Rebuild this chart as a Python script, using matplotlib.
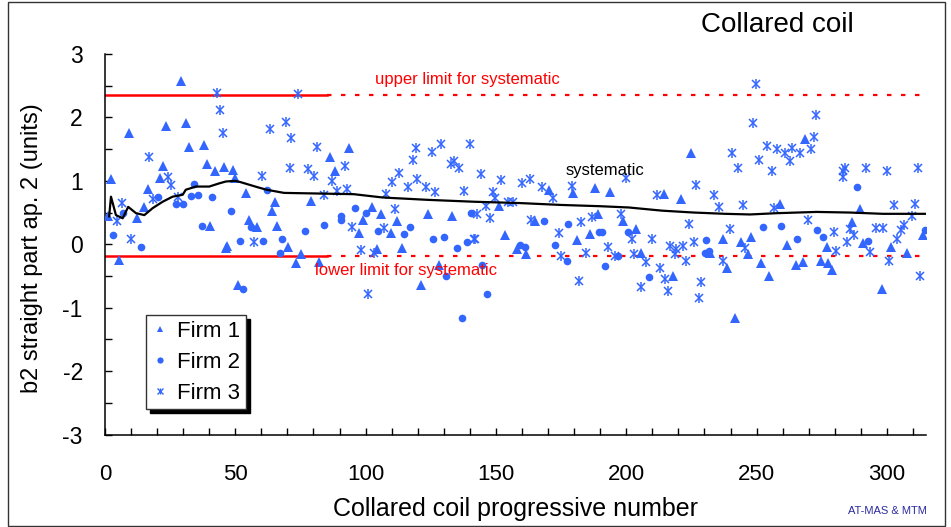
import matplotlib
matplotlib.use("Agg")
import matplotlib.pyplot as plt
from matplotlib.ticker import MultipleLocator
from matplotlib.patches import Rectangle

plt.rcParams['font.family'] = ['Liberation Sans', 'DejaVu Sans']
plt.rcParams['axes.unicode_minus'] = False

# Firm 1 (triangles)
firm1_x = [29.1, 9.3, 23.4, 31.0, 32.2, 38.0, 39.3, 42.3, 45.7, 22.1, 21.2, 2.3, 16.4, 15.1, 12.3, 1.0, 40.2, 5.2, 46.4,
           49.2, 50.0, 54.0, 65.3, 64.0, 55.3, 58.2, 65.9, 47.0, 70.4, 75.1, 73.2, 82.1, 79.2, 86.2, 88.2, 93.6, 51.1,
           102.3, 99.0, 106.0, 111.9, 97.4, 109.6, 124.0, 133.2, 114.1, 104.2, 121.3, 128.1,
           151.1, 153.6, 158.1, 161.7, 170.5, 179.4, 188.1, 181.1, 186.0, 165.1,
           224.8, 193.9, 214.3, 221.1, 189.1, 203.8, 198.7, 232.2, 237.3, 218.1, 205.7,
           268.6, 259.0, 243.9, 247.8, 261.6, 276.9, 238.6, 251.7, 254.9, 265.1, 267.9, 274.7, 277.5, 279.0, 241.8, 246.9,
           289.7, 286.7, 290.9, 301.5, 307.8, 313.9, 298.0]
firm1_y = [2.57, 1.76, 1.87, 1.91, 1.53, 1.56, 1.26, 1.15, 1.22, 1.24, 1.04, 1.03, 0.87, 0.59, 0.41, 0.45, 0.29, -0.25, -0.06,
           1.17, 1.05, 0.81, 0.67, 0.52, 0.38, 0.28, 0.29, -0.02, -0.05, -0.16, -0.29, -0.28, 0.68, 1.37, 1.16, 1.52, -0.64,
           0.58, 0.39, 0.48, 0.37, 0.17, 0.17, 0.47, 0.45, -0.06, -0.07, -0.64, -0.33,
           0.61, 0.15, -0.08, -0.15, 0.86, 0.81, 0.89, 0.06, 0.16, 0.36,
           1.44, 0.83, 0.79, 0.71, 0.48, 0.24, 0.37, -0.14, 0.09, -0.50, -0.14,
           1.66, 0.64, 0.03, 0.12, -0.01, -0.05, -0.38, -0.29, -0.50, -0.33, -0.28, -0.27, -0.29, -0.40, -1.16, -0.16,
           0.55, 0.35, 0.02, -0.04, -0.13, 0.15, -0.71]

# Firm 2 (circles)
firm2_x = [7.0, 2.9, 14.0, 27.2, 30.1, 33.0, 34.2, 35.8, 41.0, 37.2, 20.2,
           62.1, 48.3, 55.9, 51.8, 60.8, 67.8, 67.2, 76.6, 83.9, 90.4, 90.4, 53.1,
           95.9, 100.0, 104.7, 116.9, 114.7, 125.9, 130.0, 135.1, 139.0, 140.6, 130.7, 137.0,
           168.6, 159.4, 161.3, 177.7, 172.8, 189.4, 146.6, 144.7, 177.3,
           190.7, 200.6, 230.7, 230.1, 231.6, 196.8, 191.7, 208.9,
           252.4, 259.4, 265.6, 273.3, 275.6,
           288.6, 292.6, 314.6]
firm2_y = [0.49, 0.14, -0.05, 0.64, 0.64, 0.76, 0.95, 0.78, 0.74, 0.29, 0.75,
           0.85, 0.53, 0.27, 0.05, 0.05, 0.08, -0.13, 0.21, 0.31, 0.38, 0.45, -0.71,
           0.57, 0.50, 0.21, 0.28, 0.16, 0.08, 0.12, -0.06, 0.03, 0.49, -0.50, -1.17,
           0.36, -0.01, -0.04, 0.32, -0.01, 0.19, -0.79, -0.33, -0.27,
           0.19, 0.19, 0.07, -0.14, -0.10, -0.18, -0.34, -0.51,
           0.28, 0.29, 0.08, 0.23, 0.12,
           0.90, 0.05, 0.22]

# Firm 3 (asterisks)
firm3_x = [42.9, 44.2, 45.1, 17.0, 24.0, 25.3, 18.3, 28.2, 6.5, 4.5, 10.0,
           74.2, 69.3, 63.2, 71.2, 81.2, 92.0, 71.0, 77.9, 80.2, 60.2, 87.0, 88.9, 93.0, 84.0, 57.0,
           119.2, 118.3, 125.3, 129.0, 140.0, 133.8, 136.0, 132.7, 112.8, 110.2, 119.8, 116.2, 123.0, 126.8, 137.9,
           107.9, 111.2, 94.9, 107.0, 98.1, 103.2, 141.5, 101.0,
           144.3, 152.0, 160.0, 163.0, 148.9, 149.8, 146.0, 142.8, 147.9, 154.5, 156.6, 167.7, 171.9, 163.6, 142.1,
           179.2, 182.8, 186.8, 174.1, 175.0, 184.7, 181.7,
           200.0, 226.8, 211.8, 233.7, 235.7, 198.0, 223.9, 202.2, 209.8, 225.8, 216.9, 219.2, 221.8, 193.0, 202.8,
           195.8, 207.7, 218.8, 223.0, 212.8, 214.9, 205.7, 216.0, 228.7, 228.0,
           249.8, 272.8, 248.8, 272.0, 253.9, 258.0, 263.7, 260.9, 266.7, 270.8, 262.8, 240.7, 250.9, 242.8, 255.8,
           283.9, 283.3, 283.3, 244.7, 256.7, 269.9, 239.8, 279.8, 284.6, 245.6, 280.5, 237.0,
           291.8, 299.9, 311.8, 302.8, 310.7, 309.7, 285.8, 295.7, 298.6, 305.4, 306.6, 287.5, 303.7, 293.7, 300.8, 312.6]
firm3_y = [2.38, 2.11, 1.75, 1.37, 1.06, 0.93, 0.71, 0.75, 0.65, 0.37, 0.09,
           2.37, 1.93, 1.82, 1.68, 1.53, 1.24, 1.20, 1.19, 1.08, 1.08, 1.00, 0.84, 0.87, 0.78, 0.04,
           1.52, 1.33, 1.45, 1.58, 1.58, 1.32, 1.20, 1.26, 1.12, 0.98, 1.03, 0.91, 0.91, 0.82, 0.84,
           0.79, 0.55, 0.28, 0.25, -0.09, -0.14, 0.09, -0.79,
           1.11, 1.01, 0.97, 1.03, 0.83, 0.73, 0.61, 0.48, 0.41, 0.66, 0.67, 0.91, 0.73, 0.39, 0.08,
           0.92, 0.35, 0.43, 0.18, -0.18, -0.13, -0.58,
           1.04, 0.94, 0.77, 0.77, 0.59, 0.48, 0.32, 0.08, 0.09, 0.03, -0.03, -0.07, -0.03, -0.05, -0.15,
           -0.19, -0.28, -0.16, -0.26, -0.38, -0.55, -0.67, -0.73, -0.60, -0.84,
           2.53, 2.04, 1.91, 1.69, 1.55, 1.50, 1.52, 1.44, 1.44, 1.50, 1.31, 1.44, 1.33, 1.20, 1.15,
           1.21, 1.15, 1.06, 0.62, 0.57, 0.38, 0.24, 0.20, 0.03, -0.06, -0.10, -0.26,
           1.21, 1.15, 1.20, 0.62, 0.63, 0.44, 0.24, 0.26, 0.25, 0.23, 0.31, 0.14, 0.08, -0.12, -0.27, -0.50]

# systematic (running mean)
sys_x = [1.6, 2.3, 4.2, 6.8, 8.9, 11.9, 15.1, 18.3, 22.1, 25.9, 29.8, 31.0, 34.9, 40.0, 43.8, 46.4, 50.0, 52.0,
         58.5, 62.0, 68.7, 82.0, 95.4, 106.0, 110.0, 124.0, 142.0, 159.0, 175.0, 190.0, 201.0, 213.7, 226.0,
         238.0, 247.5, 257.7, 273.0, 286.0, 298.5, 315.0]
sys_y = [0.44, 0.75, 0.46, 0.41, 0.59, 0.49, 0.46, 0.57, 0.67, 0.75, 0.78, 0.86, 0.91, 0.91, 0.96, 0.99, 1.00, 0.98,
         0.90, 0.86, 0.81, 0.80, 0.79, 0.74, 0.73, 0.70, 0.67, 0.65, 0.62, 0.60, 0.58, 0.53, 0.50,
         0.48, 0.47, 0.49, 0.51, 0.50, 0.48, 0.48]

upper_limit = 2.35
lower_limit = -0.18
limit_split = 85
x_max = 315

blue = '#3366ff'

fig = plt.figure(figsize=(9.51, 5.27), dpi=100)
ax = fig.add_axes([0.1104, 0.1755, 0.8633, 0.7220])

# limits: solid on the first part, dashed afterwards
for lim in (upper_limit, lower_limit):
    ax.plot([0, limit_split], [lim, lim], color='red', lw=1.8, zorder=2)
    ax.plot([limit_split, x_max], [lim, lim], color='red', lw=1.6, dashes=(2, 4.3), zorder=2)

ax.plot(firm1_x, firm1_y, '^', color=blue, ms=6.5, mew=0, zorder=3)
ax.plot(firm2_x, firm2_y, 'o', color=blue, ms=5.5, mew=0, zorder=3)
ax.plot(firm3_x, firm3_y, 'x', color=blue, ms=5.5, mew=1.1, zorder=3)
ax.plot(firm3_x, firm3_y, '|', color=blue, ms=6.5, mew=1.1, zorder=3)

ax.plot(sys_x, sys_y, color='black', lw=1.6, zorder=4)

ax.text(139, 2.6, 'upper limit for systematic', color='red', fontsize=12, ha='center', va='center')
ax.text(115.3, -0.41, 'lower limit for systematic', color='red', fontsize=12, ha='center', va='center')
ax.text(192, 1.17, 'systematic', color='black', fontsize=12, ha='center', va='center')

ax.set_xlim(0, x_max)
ax.set_ylim(-3, 3)
ax.xaxis.set_major_locator(MultipleLocator(50))
ax.xaxis.set_minor_locator(MultipleLocator(10))
ax.yaxis.set_major_locator(MultipleLocator(1))
ax.yaxis.set_minor_locator(MultipleLocator(0.5))
ax.tick_params(which='both', direction='in', length=5, width=1, colors='black')
ax.tick_params(axis='x', which='major', pad=21, labelsize=16)
ax.tick_params(axis='y', which='major', pad=16, labelsize=16.5)
for s in ('top', 'right'):
    ax.spines[s].set_visible(False)
for s in ('left', 'bottom'):
    ax.spines[s].set_linewidth(1.1)

ax.set_xlabel('Collared coil progressive number', fontsize=18)
ax.xaxis.set_label_coords(0.5, -0.165)
ax.set_ylabel('b2 straight part ap. 2 (units)', fontsize=17)
ax.yaxis.set_label_coords(-0.075, 0.49)

h1, = ax.plot([], [], '^', color=blue, ms=5, mew=0)
h2, = ax.plot([], [], 'o', color=blue, ms=4.5, mew=0)
h3a, = ax.plot([], [], 'x', color=blue, ms=4.5, mew=1)
h3b, = ax.plot([], [], '|', color=blue, ms=5, mew=1)
leg = ax.legend([h1, h2, (h3a, h3b)], ['Firm 1', 'Firm 2', 'Firm 3'],
                loc='upper left', bbox_to_anchor=(0.05, 0.314), borderaxespad=0,
                fontsize=16, labelspacing=0.45, handlelength=0.8, handletextpad=0.35,
                borderpad=0.25, fancybox=False, framealpha=1,
                shadow={'ox': 3, 'oy': -3, 'color': 'black', 'alpha': 1})
leg.get_frame().set_edgecolor('#333333')
leg.get_frame().set_linewidth(1)

fig.text(777 / 951, 1 - 25 / 527, 'Collared coil', fontsize=20, ha='center', va='center')
fig.text(887 / 951, 1 - 511 / 527, 'AT-MAS & MTM', fontsize=8, color='#2b2ba0', ha='center', va='center')

fig.patches.append(Rectangle((8 / 951, 0.002), 1 - 14 / 951, 0.994, transform=fig.transFigure,
                             fill=False, edgecolor='#333333', lw=1))

fig.savefig('out.png', dpi=100)
